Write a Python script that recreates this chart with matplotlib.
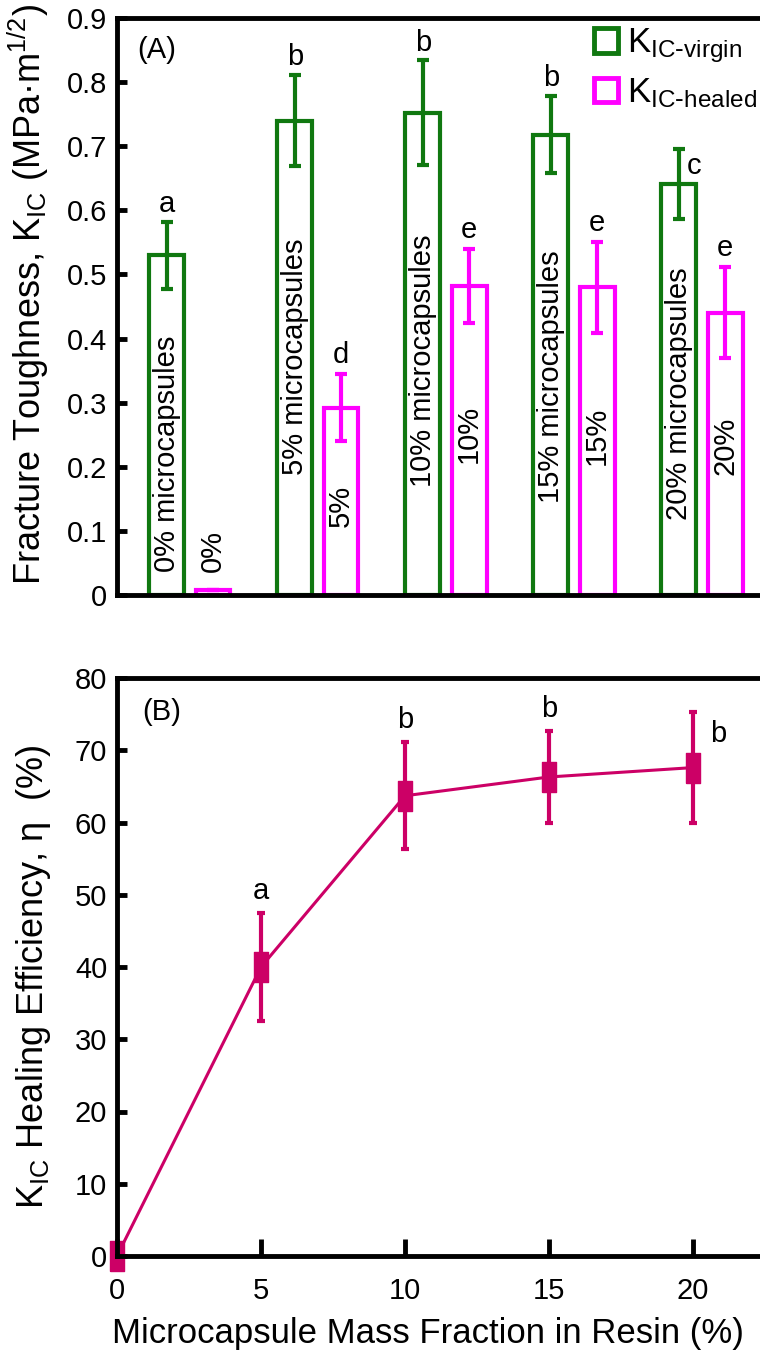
import numpy as np
import matplotlib
matplotlib.use('Agg')
import matplotlib.pyplot as plt
from matplotlib.patches import Patch

plt.rcParams['font.family'] = ['Liberation Sans', 'DejaVu Sans']
plt.rcParams['mathtext.default'] = 'regular'

# panel A - fracture toughness
grupos = ['0%', '5%', '10%', '15%', '20%']
k_virgin = [0.53, 0.74, 0.752, 0.718, 0.641]
k_virgin_err = [0.052, 0.071, 0.082, 0.060, 0.054]
k_healed = [0.008, 0.292, 0.482, 0.48, 0.44]
k_healed_err = [0.0, 0.052, 0.058, 0.071, 0.071]
letras_virgin = ['a', 'b', 'b', 'b', 'c']
letras_healed = ['', 'd', 'e', 'e', 'e']
etiquetas_virgin = ['0% microcapsules', '5% microcapsules', '10% microcapsules',
                    '15% microcapsules', '20% microcapsules']
etiquetas_healed = ['0%', '5%', '10%', '15%', '20%']

# panel B - healing efficiency
fraccion = [0, 5, 10, 15, 20]
eficiencia = [0, 40.0, 63.7, 66.3, 67.6]
eficiencia_err = [0, 7.5, 7.4, 6.4, 7.7]
letras_b = ['', 'a', 'b', 'b', 'b']

verde = '#107810'
magenta = '#ff00ff'
rojo = '#cc0066'

fig = plt.figure(figsize=(7.6, 13.53), dpi=100)
ax1 = fig.add_axes([117/760, 758/1353, 643/760, 577/1353])
ax2 = fig.add_axes([117/760, 97/1353, 643/760, 578/1353])

x = np.arange(len(grupos))
ancho = 0.273
desp = 0.36

ax1.bar(x, k_virgin, width=ancho, facecolor='white', edgecolor=verde, linewidth=3,
        yerr=k_virgin_err, error_kw=dict(ecolor=verde, elinewidth=3, capsize=4, capthick=3))
ax1.bar(x + desp, k_healed, width=ancho, facecolor='white', edgecolor=magenta, linewidth=3,
        yerr=k_healed_err, error_kw=dict(ecolor=magenta, elinewidth=3, capsize=4, capthick=3))

# texto dentro de las barras
y_txt_virgin = [0.036, 0.187, 0.168, 0.143, 0.117]
y_txt_healed = [0.036, 0.106, 0.206, 0.203, 0.187]
for i in range(len(grupos)):
    ax1.text(x[i], y_txt_virgin[i], etiquetas_virgin[i], rotation=90, ha='center',
             va='bottom', fontsize=21)
    ax1.text(x[i] + desp, y_txt_healed[i], etiquetas_healed[i], rotation=90, ha='center',
             va='bottom', fontsize=21)

# letras de significancia
for i in range(len(grupos)):
    top = k_virgin[i] + k_virgin_err[i]
    if letras_virgin[i] == 'c':
        ax1.annotate(letras_virgin[i], (x[i], top), xytext=(11, -12), textcoords='offset points',
                     ha='center', va='center', fontsize=21)
    else:
        ax1.annotate(letras_virgin[i], (x[i], top), xytext=(0, 7), textcoords='offset points',
                     ha='center', va='baseline', fontsize=21)
    if letras_healed[i]:
        top = k_healed[i] + k_healed_err[i]
        ax1.annotate(letras_healed[i], (x[i] + desp, top), xytext=(0, 8),
                     textcoords='offset points', ha='center', va='baseline', fontsize=21)

ax1.set_xlim(-0.39, 4.633)
ax1.set_ylim(0, 0.9)
ax1.set_yticks(np.arange(0, 0.91, 0.1))
ax1.set_yticklabels(['%g' % round(v, 1) for v in np.arange(0, 0.91, 0.1)])
ax1.set_xticks([])
ax1.spines['right'].set_visible(False)
for s in ['top', 'left', 'bottom']:
    ax1.spines[s].set_linewidth(3.5)
ax1.tick_params(axis='y', direction='in', length=7, width=3.5, labelsize=21, pad=7)
ax1.set_ylabel('Fracture Toughness, K$_{IC}$ (MPa·m$^{1/2}$)', fontsize=26)
ax1.yaxis.set_label_coords(-0.103, 0.52)
ax1.text(0.031, 0.945, '(A)', transform=ax1.transAxes, fontsize=21, va='center')

handles = [Patch(facecolor='white', edgecolor=verde, linewidth=3.5),
           Patch(facecolor='white', edgecolor=magenta, linewidth=3.5)]
ax1.legend(handles, [r'K$_{IC\text{-}virgin}$', r'K$_{IC\text{-}healed}$'], loc='upper right',
           bbox_to_anchor=(0.995, 0.985), frameon=False, fontsize=25, handlelength=0.7,
           handleheight=0.7, handletextpad=0.25, borderpad=0, borderaxespad=0, labelspacing=0.3)

# panel B
rect = [(-0.45, -1), (0.45, -1), (0.45, 1), (-0.45, 1), (-0.45, -1)]
ax2.errorbar(fraccion, eficiencia, yerr=eficiencia_err, color=rojo, linewidth=2.2,
             marker=rect, markersize=21.6, markerfacecolor=rojo, markeredgecolor=rojo,
             ecolor=rojo, elinewidth=3, capsize=3, capthick=3, clip_on=False)
for i in range(len(fraccion)):
    if not letras_b[i]:
        continue
    top = eficiencia[i] + eficiencia_err[i]
    if i == 4:
        ax2.annotate(letras_b[i], (fraccion[i], top), xytext=(18, -16), textcoords='offset points',
                     ha='center', va='center', fontsize=21)
    else:
        ax2.annotate(letras_b[i], (fraccion[i], top), xytext=(0, 10), textcoords='offset points',
                     ha='center', va='baseline', fontsize=21)

ax2.set_xlim(0, 643/28.8)
ax2.set_ylim(0, 80)
ax2.set_xticks([0, 5, 10, 15, 20])
ax2.set_yticks(np.arange(0, 81, 10))
ax2.spines['right'].set_visible(False)
for s in ['top', 'left', 'bottom']:
    ax2.spines[s].set_linewidth(3.5)
ax2.tick_params(axis='y', direction='in', length=7, width=3.5, labelsize=21, pad=7)
ax2.tick_params(axis='x', direction='in', length=12, width=3.5, labelsize=21, pad=15)
ax2.set_ylabel('K$_{IC}$ Healing Efficiency, η  (%)', fontsize=26)
ax2.yaxis.set_label_coords(-0.1, 0.483)
ax2.set_xlabel('Microcapsule Mass Fraction in Resin (%)', fontsize=25)
ax2.xaxis.set_label_coords(0.484, -0.105)
ax2.text(0.04, 0.941, '(B)', transform=ax2.transAxes, fontsize=21, va='center')

plt.savefig('out.png', dpi=100)
